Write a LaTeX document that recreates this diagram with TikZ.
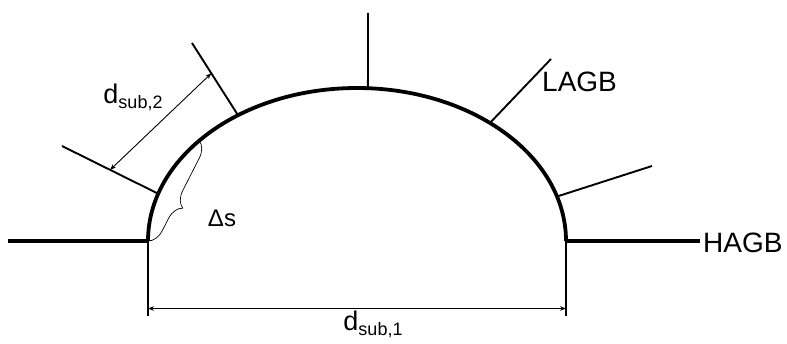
\documentclass[tikz,border=0pt]{standalone}
\usepackage{fontspec}
\setmainfont{Liberation Sans}
\usetikzlibrary{calc,arrows.meta,decorations.pathreplacing}
\tikzset{
  grain/.style={line width=3.8pt},
  gb/.style={line width=1.9pt},
  dimline/.style={line width=0.9pt, {Stealth[length=6pt,width=4.5pt]}-{Stealth[length=6pt,width=4.5pt]}},
  lbl/.style={font=\fontsize{28}{32}\selectfont, inner sep=3pt}
}
\newcommand{\dsub}[1]{d{\fontsize{18}{20}\selectfont\raisebox{-5pt}{sub,#1}}}
\begin{document}
\begin{tikzpicture}[x=1pt,y=1pt]
            \useasboundingbox (0,0) rectangle (787,343);
            \coordinate (c) at (357,102);
            \coordinate (L) at (148,102);
            \coordinate (R) at (566,102);
            % Grain
            \draw[grain] (L) arc[start angle=180, end angle=0, x radius=209, y radius=153];
            \coordinate (hl) at (8,102);
            \node[lbl, anchor=west] (hagb) at (700,100) {HAGB};
            \draw[grain] (hl) -- (L);
            \draw[grain] (R) -- (R -| hagb.west);
            % Boundaries
            \coordinate (gLL) at ($(c)+(162:209 and 153)$);
            \coordinate (gUL) at ($(c)+(124.7:209 and 153)$);
            \coordinate (gT) at ($(c)+(87:209 and 153)$);
            \coordinate (gLAGB) at ($(c)+(50.5:209 and 153)$);
            \coordinate (gLR) at ($(c)+(16.9:209 and 153)$);
            \coordinate (oLL) at (62,197);
            \coordinate (oUL) at (192,300);
            \coordinate (oT) at (368,330);
            \coordinate (oLAGB) at (551,284);
            \coordinate (oLR) at (652,177);
            \foreach \b in {LL,UL,T,LAGB,LR}
                \draw[gb] (g\b) -- (o\b);
            \node[lbl, anchor=west] (lagb) at (539,261) {LAGB};
            % Dimensions
            \coordinate (Ld) at (148,27);
            \coordinate (Rd) at (566,27);
            \draw[gb] (L) -- (Ld);
            \draw[gb] (R) -- (Rd);
            \draw[dimline] ($(L)!0.9!(Ld)$) -- ($(R)!0.9!(Rd)$);
            \node[font=\fontsize{27}{30}\selectfont] (dsub1) at (373,19) {\dsub{1}};
            \draw[dimline] ($(gUL)!0.58!(oUL)$) -- ($(gLL)!0.5!(oLL)$);
            \node[font=\fontsize{27}{30}\selectfont] (dsub2) at (133,246) {\dsub{2}};
            % Arc length
            \draw[line width=0.7pt, decorate, decoration={brace, amplitude=16pt, aspect=0.6}] ($(c)+(139:209 and 153)$) -- (L);
            \node[font=\fontsize{24}{26}\selectfont] (ds) at (222,125) {Δs};
        \end{tikzpicture}
\end{document}
